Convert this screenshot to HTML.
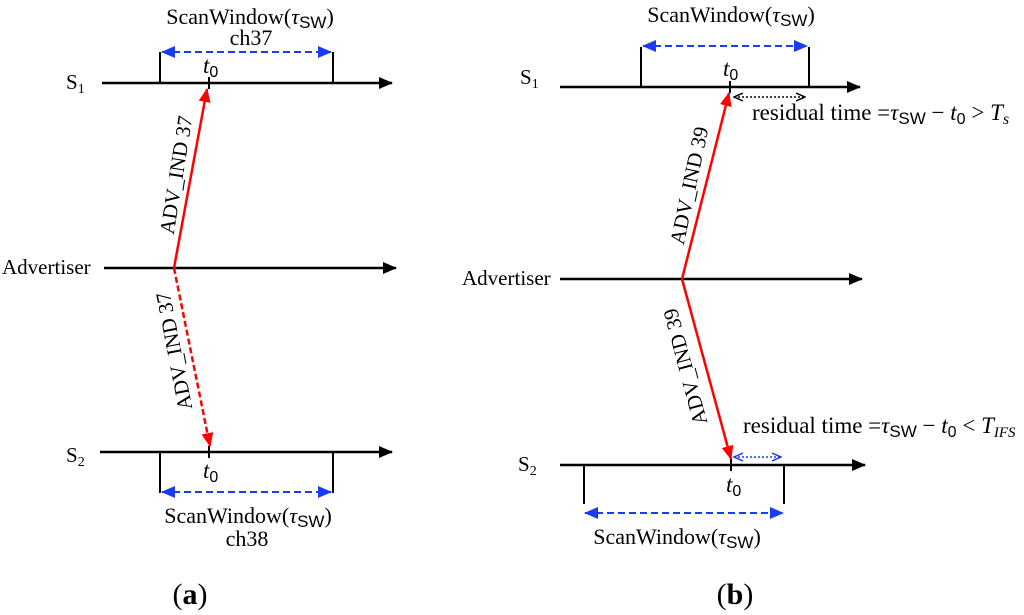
<!DOCTYPE html>
<html><head><meta charset="utf-8"><style>
html,body{margin:0;padding:0;background:#fff}
svg{display:block}
text{font-family:"Liberation Serif",serif;fill:#000}
</style></head><body>
<svg width="1024" height="615" viewBox="0 0 1024 615" xmlns="http://www.w3.org/2000/svg">
<defs>
<marker id="ak" markerWidth="14" markerHeight="14" refX="13" refY="7" orient="auto" markerUnits="userSpaceOnUse"><path d="M0,1 L14,7 L0,13 z" fill="#000"/></marker>
<marker id="ar" markerWidth="14" markerHeight="14" refX="13" refY="7" orient="auto" markerUnits="userSpaceOnUse"><path d="M0,1 L14,7 L0,13 z" fill="#f00"/></marker>
<marker id="ab" markerWidth="14" markerHeight="12" refX="13" refY="6" orient="auto-start-reverse" markerUnits="userSpaceOnUse"><path d="M0,0 L14,6 L0,12 z" fill="#1a3cf0"/></marker>
<marker id="asb" markerWidth="10" markerHeight="10" refX="9" refY="5" orient="auto-start-reverse" markerUnits="userSpaceOnUse"><path d="M0,1 L9,5 L0,9" fill="none" stroke="#1a3cf0" stroke-width="1.5"/></marker>
<marker id="ask" markerWidth="10" markerHeight="10" refX="9" refY="5" orient="auto-start-reverse" markerUnits="userSpaceOnUse"><path d="M0,1 L9,5 L0,9" fill="none" stroke="#000" stroke-width="1.5"/></marker>
</defs>
<g stroke="#000" stroke-width="2.5" fill="none">
<line x1="102" y1="83" x2="392" y2="83" marker-end="url(#ak)"/>
<line x1="104" y1="268" x2="396" y2="268" marker-end="url(#ak)"/>
<line x1="100" y1="452" x2="392" y2="452" marker-end="url(#ak)"/>
<line x1="160" y1="52" x2="160" y2="83" stroke-width="2"/>
<line x1="333" y1="52" x2="333" y2="83" stroke-width="2"/>
<line x1="209" y1="77" x2="209" y2="89" stroke-width="2"/>
<line x1="160" y1="452" x2="160" y2="493" stroke-width="2"/>
<line x1="333" y1="452" x2="333" y2="493" stroke-width="2"/>
<line x1="209" y1="446" x2="209" y2="458" stroke-width="2"/>
<line x1="560" y1="87" x2="860" y2="87" marker-end="url(#ak)"/>
<line x1="560" y1="279" x2="862" y2="279" marker-end="url(#ak)"/>
<line x1="560" y1="465" x2="865" y2="465" marker-end="url(#ak)"/>
<line x1="641" y1="47" x2="641" y2="87" stroke-width="2"/>
<line x1="809" y1="47" x2="809" y2="87" stroke-width="2"/>
<line x1="730" y1="81" x2="730" y2="93" stroke-width="2"/>
<line x1="584" y1="465" x2="584" y2="504" stroke-width="2"/>
<line x1="784" y1="465" x2="784" y2="504" stroke-width="2"/>
<line x1="731" y1="459" x2="731" y2="471" stroke-width="2"/>
</g>
<g stroke="#1a3cf0" stroke-width="2" stroke-dasharray="7,4" fill="none">
<line x1="162" y1="52" x2="331" y2="52" marker-start="url(#ab)" marker-end="url(#ab)"/>
<line x1="162" y1="492" x2="331" y2="492" marker-start="url(#ab)" marker-end="url(#ab)"/>
<line x1="643" y1="46" x2="807" y2="46" marker-start="url(#ab)" marker-end="url(#ab)"/>
<line x1="585" y1="513" x2="783" y2="513" marker-start="url(#ab)" marker-end="url(#ab)"/>
</g>
<line x1="734" y1="457" x2="781" y2="457" stroke="#1a3cf0" stroke-width="1.5" stroke-dasharray="2,2" marker-start="url(#asb)" marker-end="url(#asb)"/>
<line x1="734" y1="97" x2="805" y2="97" stroke="#000" stroke-width="1.5" stroke-dasharray="2,2" marker-start="url(#ask)" marker-end="url(#ask)"/>
<g stroke="#f00" stroke-width="2.5" fill="none">
<line x1="174" y1="268" x2="207" y2="89" marker-end="url(#ar)"/>
<line x1="174" y1="268" x2="210" y2="446" stroke-dasharray="6,3" marker-end="url(#ar)"/>
<line x1="682" y1="279" x2="729" y2="93" marker-end="url(#ar)"/>
<line x1="682" y1="279" x2="731" y2="459" marker-end="url(#ar)"/>
</g>
<g font-size="21">
<text x="250" y="24" text-anchor="middle" font-size="22">ScanWindow(<tspan font-style="italic">τ</tspan><tspan font-family="Liberation Sans" font-size="17" dy="4">SW</tspan><tspan dy="-4">)</tspan></text>
<text x="251" y="45" text-anchor="middle" font-size="22">ch37</text>
<text x="66" y="89">S<tspan font-size="14" dy="4">1</tspan></text>
<text x="2" y="274">Advertiser</text>
<text x="66" y="462">S<tspan font-size="14" dy="4">2</tspan></text>
<text x="203" y="73" font-style="italic" font-size="23">t<tspan font-style="normal" font-family="Liberation Sans" font-size="16" dy="4">0</tspan></text>
<text x="203" y="478" font-style="italic" font-size="23">t<tspan font-style="normal" font-family="Liberation Sans" font-size="16" dy="4">0</tspan></text>
<text x="248" y="523" text-anchor="middle" font-size="22">ScanWindow(<tspan font-style="italic">τ</tspan><tspan font-family="Liberation Sans" font-size="17" dy="4">SW</tspan><tspan dy="-4">)</tspan></text>
<text x="247" y="546" text-anchor="middle" font-size="22">ch38</text>
<text transform="translate(183,176) rotate(-81)" text-anchor="middle">ADV_IND 37</text>
<text transform="translate(181,350) rotate(-101)" text-anchor="middle">ADV_IND 37</text>

<text x="731" y="22" text-anchor="middle" font-size="22">ScanWindow(<tspan font-style="italic">τ</tspan><tspan font-family="Liberation Sans" font-size="17" dy="4">SW</tspan><tspan dy="-4">)</tspan></text>
<text x="520" y="84">S<tspan font-size="14" dy="4">1</tspan></text>
<text x="462" y="285">Advertiser</text>
<text x="518" y="471">S<tspan font-size="14" dy="4">2</tspan></text>
<text x="723" y="76" font-style="italic" font-size="23">t<tspan font-style="normal" font-family="Liberation Sans" font-size="16" dy="4">0</tspan></text>
<text x="726" y="492" font-style="italic" font-size="23">t<tspan font-style="normal" font-family="Liberation Sans" font-size="16" dy="4">0</tspan></text>
<text x="752" y="120" font-size="23">residual time =<tspan font-style="italic">τ</tspan><tspan font-family="Liberation Sans" font-size="17" dy="4">SW</tspan><tspan dy="-4"> − </tspan><tspan font-style="italic">t</tspan><tspan font-family="Liberation Sans" font-size="16" dy="4">0</tspan><tspan dy="-4"> &gt;  </tspan><tspan font-style="italic">T</tspan><tspan font-style="italic" font-size="16" dy="4">s</tspan></text>
<text x="743" y="433" font-size="23">residual time =<tspan font-style="italic">τ</tspan><tspan font-family="Liberation Sans" font-size="17" dy="4">SW</tspan><tspan dy="-4"> − </tspan><tspan font-style="italic">t</tspan><tspan font-family="Liberation Sans" font-size="16" dy="4">0</tspan><tspan dy="-4"> &lt;  </tspan><tspan font-style="italic">T</tspan><tspan font-style="italic" font-size="15" dy="4">IFS</tspan></text>
<text x="677" y="544" text-anchor="middle" font-size="22">ScanWindow(<tspan font-style="italic">τ</tspan><tspan font-family="Liberation Sans" font-size="17" dy="4">SW</tspan><tspan dy="-4">)</tspan></text>
<text transform="translate(696,187) rotate(-78)" text-anchor="middle">ADV_IND 39</text>
<text transform="translate(692,365) rotate(-105)" text-anchor="middle">ADV_IND 39</text>
</g>
<text x="190" y="604" text-anchor="middle" font-size="30">(<tspan font-weight="bold">a</tspan>)</text>
<text x="735" y="604" text-anchor="middle" font-size="30">(<tspan font-weight="bold">b</tspan>)</text>
</svg>
</body></html>
